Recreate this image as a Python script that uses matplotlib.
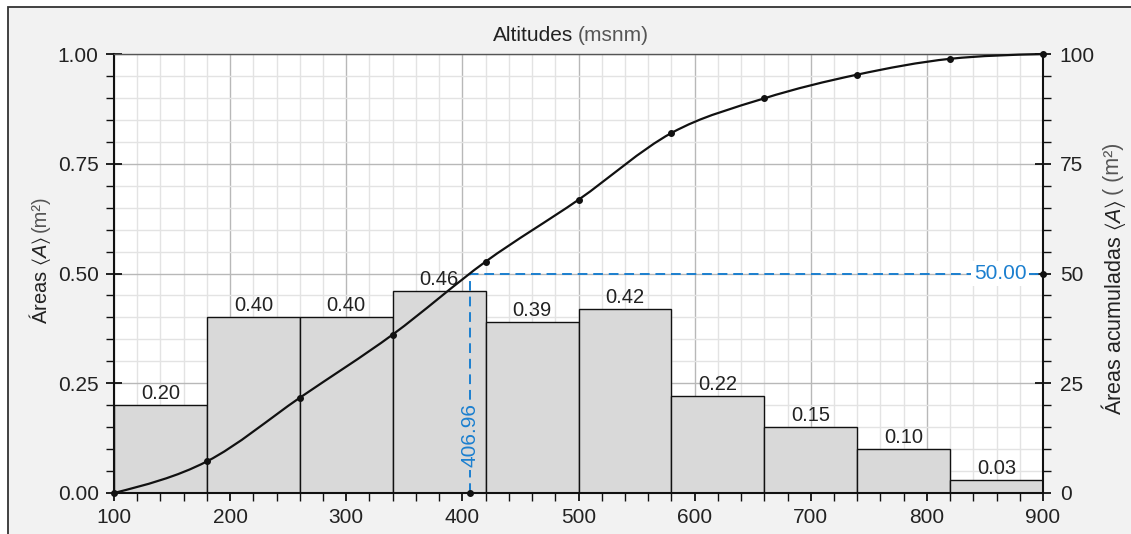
import numpy as np
import matplotlib
matplotlib.use("Agg")
import matplotlib.pyplot as plt
from matplotlib.path import Path
from matplotlib.patches import PathPatch, Rectangle
from matplotlib.ticker import MultipleLocator, FixedLocator, FormatStrFormatter
from matplotlib.offsetbox import TextArea, HPacker, AnchoredOffsetbox

# ---------------- data ----------------
bin_edges = [100, 180, 260, 340, 420, 500, 580, 660, 740, 820, 900]
areas = [0.20, 0.40, 0.40, 0.46, 0.39, 0.42, 0.22, 0.15, 0.10, 0.03]
area_labels = ["0.20", "0.40", "0.40", "0.46", "0.39", "0.42", "0.22", "0.15", "0.10", "0.03"]
cum_pct = [0.0, 7.2, 21.7, 36.1, 52.7, 66.8, 82.0, 89.9, 95.3, 98.9, 100.0]
median_alt = 406.96
median_pct = 50.00
x_ticks = [100, 200, 300, 400, 500, 600, 700, 800, 900]
y_left_ticks = [0.0, 0.25, 0.50, 0.75, 1.00]
y_right_ticks = [0, 25, 50, 75, 100]

# ---------------- style ----------------
plt.rcParams["font.family"] = ["Liberation Sans", "DejaVu Sans"]
plt.rcParams["mathtext.fontset"] = "custom"
plt.rcParams["mathtext.rm"] = "Liberation Sans"
plt.rcParams["mathtext.it"] = "Liberation Sans:italic"
plt.rcParams["mathtext.fallback"] = "stixsans"

TXT = "#222222"
GRAY_TXT = "#555555"
BLUE = "#1b7fcf"
BAR = "#d9d9d9"
FS_TICK = 15
FS_BAR = 14.5
FS_TITLE = 15

W, H = 1131, 534
fig = plt.figure(figsize=(W / 100, H / 100), dpi=100)
fig.patch.set_facecolor("white")

# outer framed panel
fig.patches.append(Rectangle((8 / W, -0.05), 1.2, 1 - 7 / H + 0.05,
                             transform=fig.transFigure, facecolor="#f2f2f2",
                             edgecolor="#333333", lw=1.3, zorder=-10))

ax = fig.add_axes([114 / W, 41 / H, (1043 - 114) / W, (493 - 54) / H])
ax.set_facecolor("white")
ax.set_xlim(bin_edges[0], bin_edges[-1])
ax.set_ylim(0, 1)

# grid
ax.xaxis.set_major_locator(FixedLocator(x_ticks))
ax.xaxis.set_minor_locator(MultipleLocator(20))
ax.yaxis.set_major_locator(FixedLocator(y_left_ticks))
ax.yaxis.set_minor_locator(MultipleLocator(0.05))
ax.yaxis.set_major_formatter(FormatStrFormatter("%.2f"))
ax.grid(which="major", color="#b8b8b8", lw=1.0, zorder=0)
ax.grid(which="minor", color="#e3e3e3", lw=1.0, zorder=0)
ax.set_axisbelow(True)

# bars
widths = np.diff(bin_edges)
ax.bar(bin_edges[:-1], areas, width=widths, align="edge", color=BAR,
       edgecolor="#111111", lw=1.0, zorder=2)
for x0, w, a, lab in zip(bin_edges[:-1], widths, areas, area_labels):
    ax.annotate(lab, (x0 + w / 2, a), xytext=(0, 1.5), textcoords="offset points",
                ha="center", va="bottom", fontsize=FS_BAR, color=TXT, zorder=3)

# ticks
ax.tick_params(which="major", direction="inout", length=12, width=1.3,
               color="#111111", labelsize=FS_TICK, labelcolor=TXT, pad=5)
ax.tick_params(which="minor", direction="out", length=6, width=1.0, color="#111111")
for s in ("left", "bottom"):
    ax.spines[s].set_linewidth(1.5)
    ax.spines[s].set_color("#111111")
ax.spines["top"].set_color("#555555")
ax.spines["top"].set_linewidth(1.0)
ax.spines["right"].set_visible(False)

# right axis
ax2 = ax.twinx()
ax2.set_ylim(0, 100)
ax2.yaxis.set_major_locator(FixedLocator(y_right_ticks))
ax2.yaxis.set_minor_locator(MultipleLocator(5))
ax2.tick_params(which="major", direction="inout", length=12, width=1.3,
                color="#111111", labelsize=FS_TICK, labelcolor=TXT, pad=6)
ax2.tick_params(which="minor", direction="out", length=6, width=1.0, color="#111111")
ax2.spines["right"].set_linewidth(1.5)
ax2.spines["right"].set_color("#111111")
for s in ("left", "bottom", "top"):
    ax2.spines[s].set_visible(False)


def two_tone_vlabel(x, y, first, second, fs, sep=3):
    t1 = ax.text(x, y, first, rotation=90, ha="center", va="bottom",
                 transform=ax.transAxes, fontsize=fs, color=TXT, clip_on=False)
    ax.annotate(second, xy=(0.5, 1), xycoords=t1, xytext=(0, sep),
                textcoords="offset points", rotation=90, ha="center", va="bottom",
                fontsize=fs, color=GRAY_TXT, annotation_clip=False)


two_tone_vlabel(-0.0797, 0.385, r"Áreas $\langle A\rangle$", "(m²)", 14.5)
two_tone_vlabel(1.0754, 0.178, r"Áreas acumuladas $\langle A\rangle$", "( (m²)", 15.5)

# smooth cumulative curve (monotone cubic Bezier through the points)
xs = np.array(bin_edges, dtype=float)
ys = np.array(cum_pct, dtype=float)
h = np.diff(xs)
s = np.diff(ys) / h
t = np.zeros_like(xs)
for i in range(1, len(xs) - 1):
    h0, h1 = h[i - 1], h[i]
    s0, s1 = s[i - 1], s[i]
    p = (s0 * h1 + s1 * h0) / (h0 + h1)
    t[i] = (np.sign(s0) + np.sign(s1)) * min(abs(s0), abs(s1), 0.5 * abs(p))
t[0] = (3 * s[0] - t[1]) / 2
t[-1] = (3 * s[-1] - t[-2]) / 2
verts = [(xs[0], ys[0])]
codes = [Path.MOVETO]
for i in range(len(xs) - 1):
    dx = h[i] / 3
    verts += [(xs[i] + dx, ys[i] + dx * t[i]),
              (xs[i + 1] - dx, ys[i + 1] - dx * t[i + 1]),
              (xs[i + 1], ys[i + 1])]
    codes += [Path.CURVE4] * 3
ax2.add_patch(PathPatch(Path(verts, codes), facecolor="none", edgecolor="#111111",
                        lw=1.6, zorder=5, clip_on=False))
ax2.plot(xs, ys, "o", color="#111111", ms=4, zorder=6, clip_on=False)

# median guide lines
ax2.plot([median_alt, median_alt, bin_edges[-1]], [0, median_pct, median_pct],
         color=BLUE, lw=1.4, dashes=(5, 3), zorder=4)
ax2.plot([median_alt, bin_edges[-1]], [0, median_pct], "o", color="#111111",
         ms=4, zorder=6, clip_on=False)
ax2.text(median_alt, 13.2, f"{median_alt:.2f}", rotation=90, ha="center", va="center",
         color=BLUE, fontsize=FS_TICK, zorder=5,
         bbox=dict(facecolor=BAR, edgecolor="none", pad=2))
ax2.text(863, median_pct, f"{median_pct:.2f}", ha="center", va="center",
         color=BLUE, fontsize=FS_TICK, zorder=5,
         bbox=dict(facecolor="white", edgecolor="none", pad=2))

# title: "Altitudes (msnm)"
t1 = TextArea("Altitudes", textprops=dict(fontsize=FS_TITLE, color=TXT))
t2 = TextArea("(msnm)", textprops=dict(fontsize=FS_TITLE, color=GRAY_TXT))
box = HPacker(children=[t1, t2], align="baseline", pad=0, sep=3)
anch = AnchoredOffsetbox(loc="center", child=box, pad=0, frameon=False,
                         bbox_to_anchor=(571 / W, 1 - 36 / H),
                         bbox_transform=fig.transFigure, borderpad=0)
fig.add_artist(anch)

fig.savefig("out.png", dpi=100, facecolor=fig.get_facecolor())
